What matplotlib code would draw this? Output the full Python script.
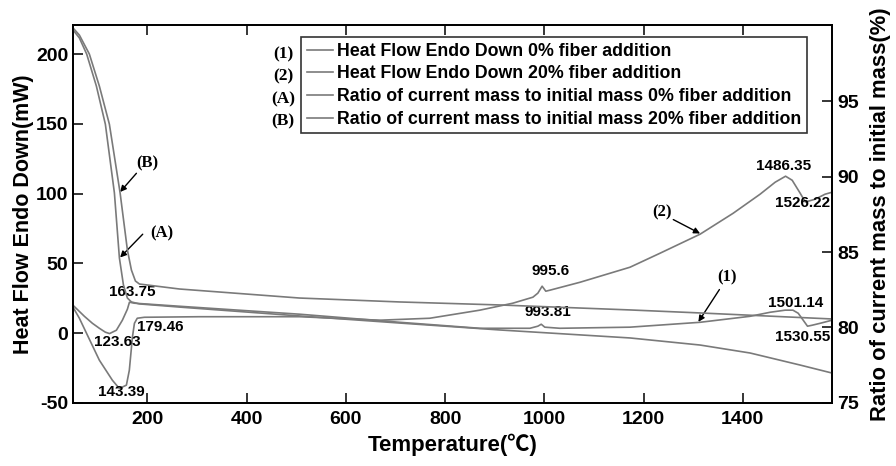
import matplotlib
matplotlib.use("Agg")
import matplotlib.pyplot as plt

# Heat flow (left axis, mW)
t_hf1 = [50, 72.9, 89.0, 103.1, 115.2, 123.63, 137.4, 149.5, 159.6, 163.75, 173.8, 264.6,
         506.8, 708.6, 870, 971, 987, 993.81, 1001, 1031.5, 1172.7, 1314, 1414.9, 1455.3,
         1485.6, 1501.14, 1511.8, 1521.9, 1530.55, 1540, 1556.3, 1580]
hf1 = [19.9, 12.0, 7.0, 3.4, 0.6, -0.4, 2.0, 9.2, 17.1, 22.1, 21.4, 19.2,
       13.5, 7.7, 3.4, 3.4, 4.9, 6.3, 4.2, 3.4, 4.2, 7.7, 12.0, 14.9,
       16.4, 16.4, 14.2, 9.2, 4.9, 5.6, 7.0, 9.2]

t_hf2 = [50, 62.8, 77.1, 103.1, 129.4, 143.39, 157.6, 163.5, 169.7, 173.8, 179.46, 193.9,
         304.9, 506.8, 668.2, 769.1, 870, 936.6, 977, 987, 995.6, 1003, 1011, 1071.8,
         1172.7, 1233, 1314, 1380.6, 1435, 1465.4, 1486.35, 1499.7, 1515.8, 1526.22,
         1546, 1566, 1580]
hf2 = [18.5, 10.6, -0.1, -19.5, -33.9, -39.8, -37.4, -26.7, -3.0, 7.0, 10.6, 11.3,
       11.7, 11.7, 9.2, 10.6, 16.4, 21.4, 25.7, 28.6, 33.6, 30.0, 30.7, 36.4,
       47.2, 57.2, 70.9, 85.9, 99.6, 108.2, 112.5, 109.6, 100.3, 94.0,
       96.0, 99.6, 101.0]

# Mass ratio (right axis, %)
t_ma = [50, 62.8, 77.5, 97.1, 115.2, 133.4, 143.5, 151.6, 159.6, 167.7, 183.9, 264.6,
        506.8, 708.6, 910.4, 1172.7, 1314, 1414.9, 1515.8, 1580]
ma = [99.75, 99.22, 98.15, 96.02, 93.49, 88.93, 84.61, 82.82, 81.95, 81.69, 81.56, 81.35,
      80.76, 80.29, 79.83, 79.30, 78.83, 78.30, 77.50, 76.97]

t_mb = [50, 62.8, 82.9, 103.1, 123.3, 144.9, 159.6, 167.7, 175.8, 183.9, 264.6,
        506.8, 708.6, 910.4, 1172.7, 1314, 1580]
mb = [99.88, 99.41, 98.15, 96.02, 93.49, 88.93, 85.14, 83.81, 83.08, 82.88, 82.55,
      81.95, 81.69, 81.49, 81.16, 80.96, 80.56]

# peak labels: (text, T, value)
peak_labels = [("163.75", 170, 29.1), ("123.63", 139.5, -6.3), ("179.46", 226, 4.5),
               ("143.39", 147.5, -42.1), ("995.6", 1012, 44.3), ("993.81", 1007, 14.9),
               ("1486.35", 1483, 119.7), ("1526.22", 1521, 93.6),
               ("1501.14", 1506, 21.2), ("1530.55", 1521, -3.2)]

# curve tags: (text, text pos, arrow tail, arrow tip) in left-axis data units
curve_tags = [("(B)", (200, 121.8), (177.8, 114.6), (144.9, 101.2)),
              ("(A)", (228, 71.6), (190.5, 70.9), (144.9, 54.2)),
              ("(2)", (1236.7, 86.9), (1260, 81.4), (1314, 71.4)),
              ("(1)", (1368, 40.2), (1353, 31.2), (1310.6, 8.0))]

legend_labels = ["Heat Flow Endo Down 0% fiber addition",
                 "Heat Flow Endo Down 20% fiber addition",
                 "Ratio of current mass to initial mass 0% fiber addition",
                 "Ratio of current mass to initial mass 20% fiber addition"]
legend_tags = ["(1)", "(2)", "(A)", "(B)"]

x_ticks = [200, 400, 600, 800, 1000, 1200, 1400]
left_ticks = [-50, 0, 50, 100, 150, 200]
right_ticks = [75, 80, 85, 90, 95]

sans = ["Liberation Sans", "DejaVu Sans"]
plt.rcParams["font.family"] = sans
plt.rcParams["font.weight"] = "bold"
plt.rcParams["axes.unicode_minus"] = False

col = "#7a7a7a"
fig = plt.figure(figsize=(8.96, 4.66), dpi=100)
ax = fig.add_axes([0.0815, 0.1358, 0.8471, 0.8106])
ax2 = ax.twinx()

l1, = ax.plot(t_hf1, hf1, color=col, lw=1.2)
l2, = ax.plot(t_hf2, hf2, color=col, lw=1.2)
l3, = ax2.plot(t_ma, ma, color=col, lw=1.2)
l4, = ax2.plot(t_mb, mb, color=col, lw=1.2)

ax.set_xlim(50, 1580)
ax.set_ylim(-50, 221)
ax2.set_ylim(75, 100.08)
ax.set_xticks(x_ticks)
ax.set_yticks(left_ticks)
ax2.set_yticks(right_ticks)

ax.tick_params(axis="x", direction="in", top=True, length=7, width=1.1, labelsize=14, pad=6)
ax.tick_params(axis="y", direction="in", length=7, width=1.1, labelsize=14)
ax2.tick_params(axis="y", direction="in", length=7, width=1.1, labelsize=14)
for a in (ax, ax2):
    for s in a.spines.values():
        s.set_linewidth(1.3)

ax.set_xlabel("Temperature(℃)", fontsize=16, fontweight="bold",
              family=["Liberation Sans", "Noto Sans CJK SC"], labelpad=4)
ax.set_ylabel("Heat Flow Endo Down(mW)", fontsize=15.5, fontweight="bold", labelpad=1)
ax2.set_ylabel("Ratio of current mass to initial mass(%)", fontsize=15.8,
               fontweight="bold", labelpad=8)

for txt, tx, val in peak_labels:
    ax.text(tx, val, txt, fontsize=11, fontweight="bold", ha="center", va="center")

for txt, pos, tail, tip in curve_tags:
    ax.text(pos[0], pos[1], txt, fontsize=12, fontweight="bold",
            family="Liberation Serif", ha="center", va="center")
    ax.annotate("", xy=tip, xytext=tail,
                arrowprops=dict(arrowstyle="-|>", color="black", lw=1.0,
                                mutation_scale=9, shrinkA=0, shrinkB=0))

leg = ax.legend([l1, l2, l3, l4], legend_labels, loc="upper left",
                bbox_to_anchor=(0.301, 0.967), borderaxespad=0, fancybox=False,
                prop={"size": 12.8, "weight": "bold"}, labelspacing=0.32,
                handlelength=1.5, handletextpad=0.2, borderpad=0.3)
leg.get_frame().set_edgecolor("black")
leg.get_frame().set_linewidth(1.2)
leg.set_zorder(5)

for i, tag in enumerate(legend_tags):
    ax.text(0.2767, 0.922 - i * 0.059, tag, transform=ax.transAxes, fontsize=12.5,
            fontweight="bold", family="Liberation Serif", ha="center", va="center")

fig.savefig("out.png", dpi=100)
